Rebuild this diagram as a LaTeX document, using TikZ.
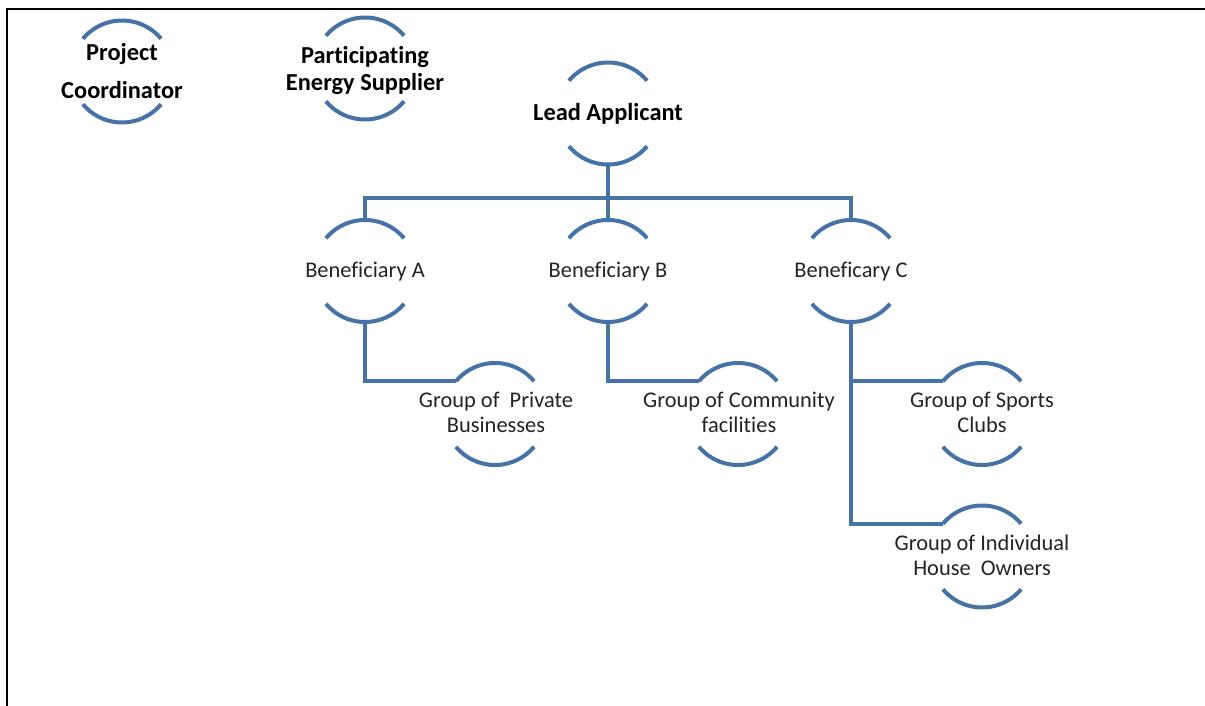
\documentclass[tikz,border=0pt]{standalone}
\usepackage{fontspec}
\setmainfont[Ligatures={NoCommon}]{Carlito}
\definecolor{arcblue}{RGB}{70,114,166}
\definecolor{txtgray}{RGB}{35,35,35}
\begin{document}
\begin{tikzpicture}[x=1pt,y=1pt,
  ring/.style={circle,minimum size=102pt,inner sep=0pt,outer sep=0pt},
  arcline/.style={draw=arcblue,line width=4pt},
  conn/.style={draw=arcblue,line width=4pt},
  boldtxt/.style={font=\fontsize{24.4}{27}\selectfont\bfseries,text=black,align=center,inner sep=0pt},
  regtxt/.style={font=\fontsize{22.4}{25}\selectfont,text=txtgray,align=center,inner sep=0pt}
]
\useasboundingbox (0,0) rectangle (1205,-706);
\draw[line width=2pt,black] (7,-706) -- (7,-9) -- (1205,-9);

% ring nodes
\node[ring] (pc) at (122,-71.5) {};
\node[ring] (pes) at (365,-68.5) {};
\node[ring] (la) at (608,-113.5) {};
\node[ring] (ba) at (365,-271) {};
\node[ring] (bb) at (608,-271) {};
\node[ring] (bc) at (851,-271) {};
\node[ring] (ga) at (495,-414) {};
\node[ring] (gb) at (738,-414) {};
\node[ring] (gc) at (982,-414) {};
\node[ring] (gd) at (982,-556.5) {};

% arcs
\foreach \n in {pc,pes,la,ba,bb,bc,ga,gb,gc,gd}{
  \draw[arcline] (\n.40) arc[start angle=40,end angle=140,radius=51pt];
  \draw[arcline] (\n.220) arc[start angle=220,end angle=320,radius=51pt];
}

% texts
\node[boldtxt,font=\fontsize{24.4}{38}\selectfont\bfseries] (pct) at (122,-71) {Project\\Coordinator};
\node[boldtxt] (pest) at (365,-70.5) {Participating\\Energy Supplier};
\node[boldtxt] (lat) at (608,-114) {Lead Applicant};
\node[regtxt] (bat) at (365,-272) {Beneficiary A};
\node[regtxt] (bbt) at (608,-272) {Beneficiary B};
\node[regtxt] (bct) at (851,-272) {Beneficary C};
\node[regtxt] (gat) at (496,-412) {Group of~ Private\\Businesses};
\node[regtxt] (gbt) at (739,-412) {Group of Community\\facilities};
\node[regtxt] (gct) at (982,-412) {Group of Sports\\Clubs};
\node[regtxt] (gdt) at (982,-555) {Group of Individual\\House~ Owners};

% connectors
\coordinate (bus) at (608,-198);
\draw[conn] (la.south) -- (bus);
\draw[conn] (ba.north) |- (bus) -| (bc.north);
\draw[conn] (bus) -- (bb.north);
\draw[conn] (ba.south) |- (ga.140);
\draw[conn] (bb.south) |- (gb.140);
\draw[conn] (bc.south) |- (gd.140);
\draw[conn] (bc.south) |- (gc.140);
\end{tikzpicture}
\end{document}
